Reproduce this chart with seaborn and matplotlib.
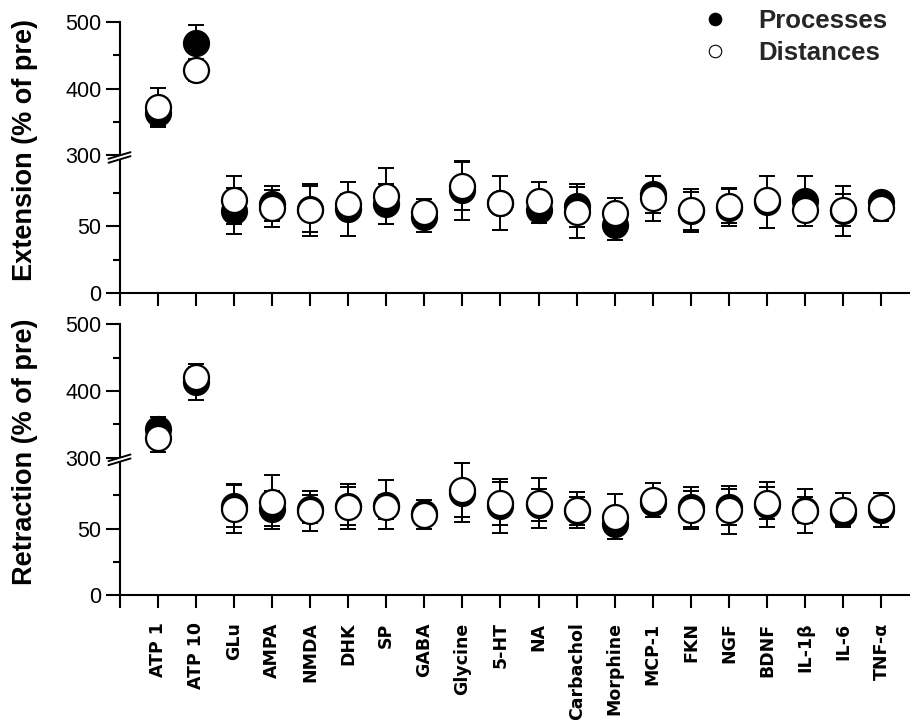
import numpy as np
import pandas as pd
import matplotlib
matplotlib.use("Agg")
import matplotlib.pyplot as plt
import seaborn as sns
from matplotlib.lines import Line2D
from matplotlib.ticker import FixedLocator, FixedFormatter, NullFormatter

# ---------------- data ----------------
categories = ["ATP 1", "ATP 10", "GLu", "AMPA", "NMDA", "DHK", "SP", "GABA",
              "Glycine", "5-HT", "NA", "Carbachol", "Morphine", "MCP-1", "FKN",
              "NGF", "BDNF", "IL-1β", "IL-6", "TNF-α"]

ext_proc_mean = [363, 468, 61.5, 67, 63, 63, 67, 57, 77, 67.5, 62.5, 65.5, 51, 74, 61.5, 64, 68.5, 69, 61.5, 68]
ext_proc_sem  = [20, 27, 17, 13, 17, 20, 15, 11, 22, 20.5, 10, 16, 11, 14, 14, 14, 19.5, 19, 19, 6]
ext_dist_mean = [373, 428, 70, 63.5, 62.5, 67, 73, 60.5, 80.5, 67.5, 69, 60.5, 60, 71, 62, 65.5, 70, 62, 62.5, 64]
ext_dist_sem  = [28, 16, 18, 14, 19.5, 7, 21, 10, 18, 7, 14.5, 19, 11.5, 17, 16, 13, 6.5, 6, 12, 10]

ret_proc_mean = [343, 414, 67, 65, 64.5, 67, 68, 61.5, 77, 67, 68, 63.5, 53.5, 69, 66, 66.5, 68, 64, 61.5, 64]
ret_proc_sem  = [18, 27, 15.5, 13, 10.5, 14, 18, 6, 22, 20, 12, 10.5, 6.5, 4, 15, 13.5, 17, 10, 9, 13]
ret_dist_mean = [329, 421, 65, 70, 63, 66.5, 66.5, 60.5, 79, 69, 69, 64, 59, 71.5, 64, 64, 69, 63.5, 64, 66.5]
ret_dist_sem  = [21, 15, 18.5, 20, 15, 17, 9, 11, 20, 16, 18.5, 13.7, 17, 12.5, 14.5, 18, 12, 16.5, 13, 10]

series_names = ["Processes", "Distances"]
y_major = [0, 50, 300, 400, 500]
y_minor = [25, 75, 350, 450]

# ---------------- style ----------------
sns.set_theme(style="ticks")
plt.rcParams["font.family"] = ["Liberation Sans", "DejaVu Sans"]
plt.rcParams["axes.linewidth"] = 1.5


def fwd(v):
    v = np.asarray(v, dtype=float)
    return np.where(v <= 100, v,
                    np.where(v <= 300, 100 + (v - 100) * 0.015, 103 + (v - 300) * 0.5))


def inv(u):
    u = np.asarray(u, dtype=float)
    return np.where(u <= 100, u,
                    np.where(u <= 103, 100 + (u - 100) / 0.015, 300 + (u - 103) / 0.5))


W_FIG, H_FIG = 910, 720
L = 119.5 / W_FIG
W = 1.0 - L
H = 271 / H_FIG

fig = plt.figure(figsize=(W_FIG / 100, H_FIG / 100), dpi=100)
ax_top = fig.add_axes([L, 1 - 293 / H_FIG, W, H])
ax_bot = fig.add_axes([L, 1 - 595.3 / H_FIG, W, H])


def draw_panel(ax, pm, ps, dm, ds, ylabel, label_y, show_xlabels):
    df = pd.DataFrame({
        "x": np.arange(1, len(categories) + 1),
        "cat": categories,
        "pm": pm, "ps": ps, "dm": dm, "ds": ds,
    })
    ax.set_yscale("function", functions=(fwd, inv))

    ax.errorbar(df["x"], df["pm"], yerr=df["ps"], fmt="none", ecolor="black",
                elinewidth=1.4, capsize=6, capthick=1.4, zorder=2)
    sns.scatterplot(data=df, x="x", y="pm", ax=ax, s=324, color="black",
                    edgecolor="black", linewidth=1.6, zorder=3, legend=False)
    ax.errorbar(df["x"], df["dm"], yerr=df["ds"], fmt="none", ecolor="black",
                elinewidth=1.4, capsize=6, capthick=1.4, zorder=4)
    sns.scatterplot(data=df, x="x", y="dm", ax=ax, s=324, color="white",
                    edgecolor="black", linewidth=1.6, zorder=5, legend=False)

    ax.set_xlim(0, 20.75)
    ax.set_ylim(0, 500)

    ax.set_xticks(np.arange(0, len(categories) + 1))
    if show_xlabels:
        ax.set_xticklabels([""] + categories, rotation=90, fontsize=12.5,
                           fontweight="bold", fontfamily=["DejaVu Sans"])
    else:
        ax.set_xticklabels([])
    ax.tick_params(axis="x", direction="out", length=9.5, width=1.5, pad=10,
                   colors="black")

    ax.yaxis.set_major_locator(FixedLocator(y_major))
    ax.yaxis.set_major_formatter(FixedFormatter([str(v) for v in y_major]))
    ax.yaxis.set_minor_locator(FixedLocator(y_minor))
    ax.yaxis.set_minor_formatter(NullFormatter())
    ax.tick_params(axis="y", which="major", direction="out", length=10, width=1.5,
                   labelsize=15.5, pad=3, colors="black")
    ax.tick_params(axis="y", which="minor", direction="out", length=5, width=1.5,
                   colors="black")

    sns.despine(ax=ax)
    for sp in ("left", "bottom"):
        ax.spines[sp].set_linewidth(1.5)
        ax.spines[sp].set_color("black")

    ax.set_xlabel("")
    ax.set_ylabel(ylabel, fontsize=19.5, fontweight="bold", color="black")
    ax.yaxis.set_label_coords(-0.103, label_y)

    # axis break marks
    ax_w = W * W_FIG
    ax_h = H * H_FIG
    yc = float((fwd(200) - fwd(0)) / (fwd(500) - fwd(0)))
    fx = 1.0 / ax_w
    fy = 1.0 / ax_h
    ax.plot([0, 0], [yc - 2.2 * fy, yc + 2.2 * fy], color="white", lw=3.2,
            transform=ax.transAxes, clip_on=False, zorder=10,
            solid_capstyle="butt")
    for off in (-2.0, 2.0):
        ax.plot([-11 * fx, 11 * fx],
                [yc + (off - 3.3) * fy, yc + (off + 3.3) * fy],
                color="black", lw=1.4, transform=ax.transAxes,
                clip_on=False, zorder=11)


draw_panel(ax_top, ext_proc_mean, ext_proc_sem, ext_dist_mean, ext_dist_sem,
           "Extension (% of pre)", 0.526, False)
draw_panel(ax_bot, ret_proc_mean, ret_proc_sem, ret_dist_mean, ret_dist_sem,
           "Retraction (% of pre)", 0.531, True)

handles = [
    Line2D([], [], marker="o", ls="none", markersize=9, markerfacecolor="black",
           markeredgecolor="black", markeredgewidth=0.8),
    Line2D([], [], marker="o", ls="none", markersize=9, markerfacecolor="white",
           markeredgecolor="black", markeredgewidth=0.8),
]
fig.legend(handles, series_names, loc="upper left",
           bbox_to_anchor=(702 / W_FIG, 1 - 8.8 / H_FIG),
           bbox_transform=fig.transFigure, frameon=False,
           prop=dict(family="Liberation Sans", weight="bold", size=18.5),
           handlelength=1.0, handletextpad=1.2, labelspacing=0.32,
           borderpad=0, borderaxespad=0)

fig.savefig("out.png", dpi=100)
